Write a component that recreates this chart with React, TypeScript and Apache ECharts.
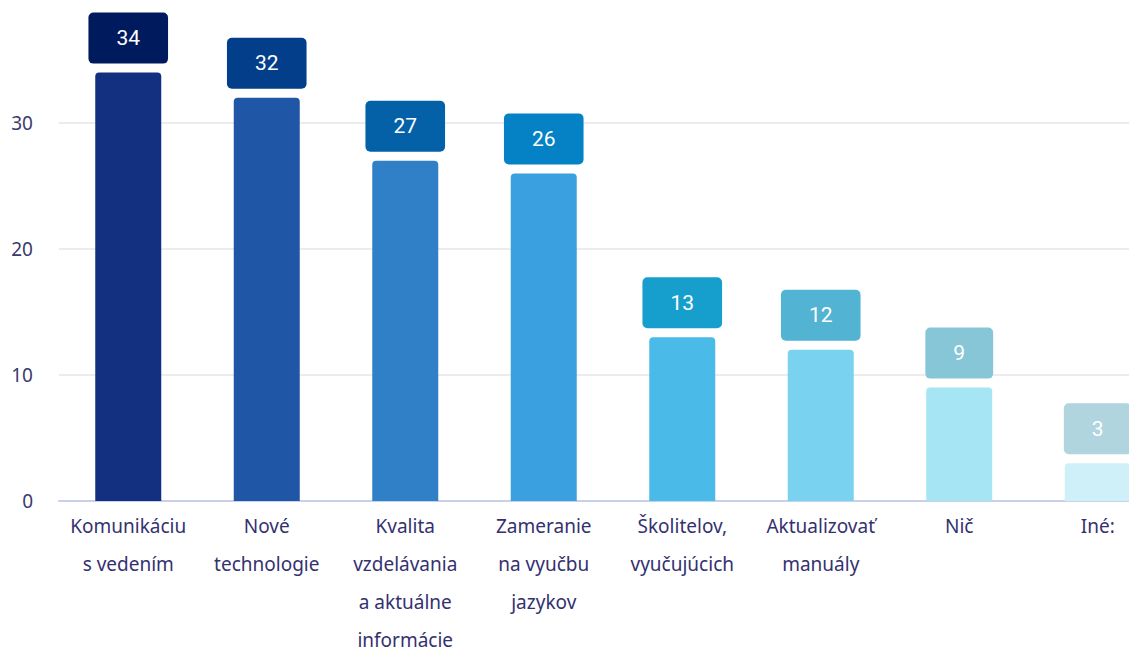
import React, { useEffect, useRef } from "react";
import * as echarts from "echarts";

const categories = [
  "Komunikáciu\ns vedením",
  "Nové\ntechnologie",
  "Kvalita\nvzdelávania\na aktuálne\ninformácie",
  "Zameranie\nna vyučbu\njazykov",
  "Školitelov,\nvyučujúcich",
  "Aktualizovať\nmanuály",
  "Nič",
  "Iné:",
];
const values = [34, 32, 27, 26, 13, 12, 9, 3];
const barColors = ["#12307f", "#1f56a5", "#3080c8", "#3aa0e0", "#4abbe8", "#78d2f0", "#a6e5f4", "#cff0f8"];
const labelColors = ["#001a5e", "#023e8a", "#0461a8", "#0582c6", "#169fcc", "#53b3d3", "#87c6d7", "#b0d5de"];
const yTicks = [0, 10, 20, 30, 40];

export default function App() {
  const ref = useRef<HTMLDivElement>(null);
  useEffect(() => {
    if (!ref.current) return;
    const chart = echarts.init(ref.current, null, { renderer: "svg" });
    chart.setOption({
      animation: false,
      grid: { left: 59, right: 0, top: -3, bottom: 150, containLabel: false, outerBoundsMode: "none" },
      xAxis: {
        type: "category",
        data: categories,
        axisLine: { lineStyle: { color: "#c9d1ea", width: 2 } },
        axisTick: { show: false },
        axisLabel: {
          interval: 0,
          color: "#34316f",
          fontSize: 19,
          lineHeight: 38,
          margin: 6,
          fontFamily: "'Noto Sans', sans-serif",
        },
      },
      yAxis: {
        type: "value",
        min: yTicks[0],
        max: yTicks[yTicks.length - 1],
        interval: 10,
        axisLine: { show: false },
        axisTick: { show: false },
        splitLine: { lineStyle: { color: "#ececec", width: 2 } },
        axisLabel: {
          color: "#3b3a6e",
          fontSize: 19,
          margin: 26,
          fontFamily: "'Noto Sans', sans-serif",
          formatter: (v: number) => (v === 40 ? "" : String(v)),
        },
      },
      series: [
        {
          type: "bar",
          barWidth: 66,
          data: values.map((v, i) => ({
            value: v,
            itemStyle: { color: barColors[i], borderRadius: [4, 4, 0, 0] },
            label: { backgroundColor: labelColors[i] },
          })),
          label: {
            show: true,
            position: "top",
            distance: 9,
            color: "#ffffff",
            fontSize: 21,
            lineHeight: 21,
            padding: [15, 28, 15, 28],
            borderRadius: 5,
            fontFamily: "Roboto, 'Noto Sans', sans-serif",
          },
        },
      ],
    });
    return () => chart.dispose();
  }, []);
  return (
    <div style={{ position: "absolute", left: 0, top: 0, width: 1129, height: 651, overflow: "hidden", background: "#fff" }}>
      <div ref={ref} style={{ width: 1167, height: 651 }} />
    </div>
  );
}
